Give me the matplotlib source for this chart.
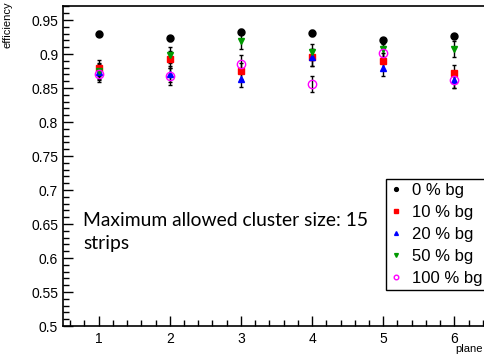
import numpy as np
import matplotlib.pyplot as plt
from matplotlib.ticker import MultipleLocator
from matplotlib.lines import Line2D

plane = [1, 2, 3, 4, 5, 6]
labels = ['0 % bg', '10 % bg', '20 % bg', '50 % bg', '100 % bg']

eff_0 = [0.930, 0.923, 0.933, 0.931, 0.920, 0.926]
eff_10 = [0.879, 0.892, 0.875, 0.895, 0.889, 0.872]
eff_20 = [0.874, 0.871, 0.863, 0.895, 0.879, 0.862]
eff_50 = [0.875, 0.899, 0.919, 0.903, 0.908, 0.907]
eff_100 = [0.871, 0.867, 0.886, 0.856, 0.902, 0.862]

err_0 = [0.004, 0.004, 0.004, 0.004, 0.004, 0.004]
err_10 = [0.012, 0.012, 0.012, 0.012, 0.012, 0.012]
err_20 = [0.012, 0.012, 0.012, 0.012, 0.012, 0.012]
err_50 = [0.012, 0.012, 0.012, 0.012, 0.012, 0.012]
err_100 = [0.012, 0.012, 0.012, 0.012, 0.012, 0.012]

plt.rcParams['font.family'] = ['Liberation Sans', 'DejaVu Sans']

fig = plt.figure(figsize=(4.84, 3.56), dpi=100)
# axes reach past the right edge like the original crop
ax = fig.add_axes([63/484, 30/356, 427/484, 320/356])

series = [
    (eff_0, err_0, 'o', 'black', 'black', 5),
    (eff_10, err_10, 's', 'red', 'red', 5),
    (eff_20, err_20, '^', 'blue', 'blue', 5),
    (eff_50, err_50, 'v', '#009900', '#009900', 5),
    (eff_100, err_100, 'o', 'none', '#ff00ff', 6),
]
handles = []
for (y, e, m, fc, ec, ms), lab in zip(series, labels):
    ax.errorbar(plane, y, yerr=e, fmt=m, mfc=fc, mec=ec, ms=ms,
                ecolor='black', elinewidth=1, capsize=1.5, capthick=1)
    handles.append(Line2D([], [], ls='none', marker=m, mfc=fc, mec=ec,
                          ms=ms * 0.55, label=lab))

ax.set_xlim(0.5, 6.5)
ax.set_ylim(0.5, 0.9706)
ax.xaxis.set_major_locator(MultipleLocator(1))
ax.xaxis.set_minor_locator(MultipleLocator(0.2))
ax.yaxis.set_major_locator(MultipleLocator(0.05))
ax.yaxis.set_minor_locator(MultipleLocator(0.01))
ax.yaxis.set_major_formatter(plt.FuncFormatter(lambda v, p: ('%g' % round(v, 2))))
ax.tick_params(which='both', direction='in', top=False, right=False, labelsize=10)
ax.tick_params(which='major', length=7, width=1)
ax.tick_params(which='minor', length=4, width=1)
ax.tick_params(axis='x', pad=4)
for s in ax.spines.values():
    s.set_linewidth(1.2)

fig.text(8/484, 1 - 1/356, 'efficiency', fontsize=8, rotation=90,
         ha='center', va='top')
fig.text(483/484, 1 - 354/356, 'plane', fontsize=8, ha='right', va='bottom')

leg = ax.legend(handles=handles, loc='upper left',
                bbox_to_anchor=(386/484, 1 - 179/356),
                bbox_transform=fig.transFigure, borderaxespad=0,
                fontsize=12, handlelength=0.7,
                handletextpad=0.6, labelspacing=0.42, fancybox=False,
                framealpha=1, edgecolor='black', borderpad=0.25)
leg.get_frame().set_linewidth(1)

fig.text(83/484, 1 - 226/356, 'Maximum allowed cluster size: 15',
         fontsize=13.9, family=['Lato', 'DejaVu Sans'], ha='left', va='baseline')
fig.text(83/484, 1 - 249/356, 'strips',
         fontsize=13.9, family=['Lato', 'DejaVu Sans'], ha='left', va='baseline')

fig.savefig('out.png', dpi=100)
